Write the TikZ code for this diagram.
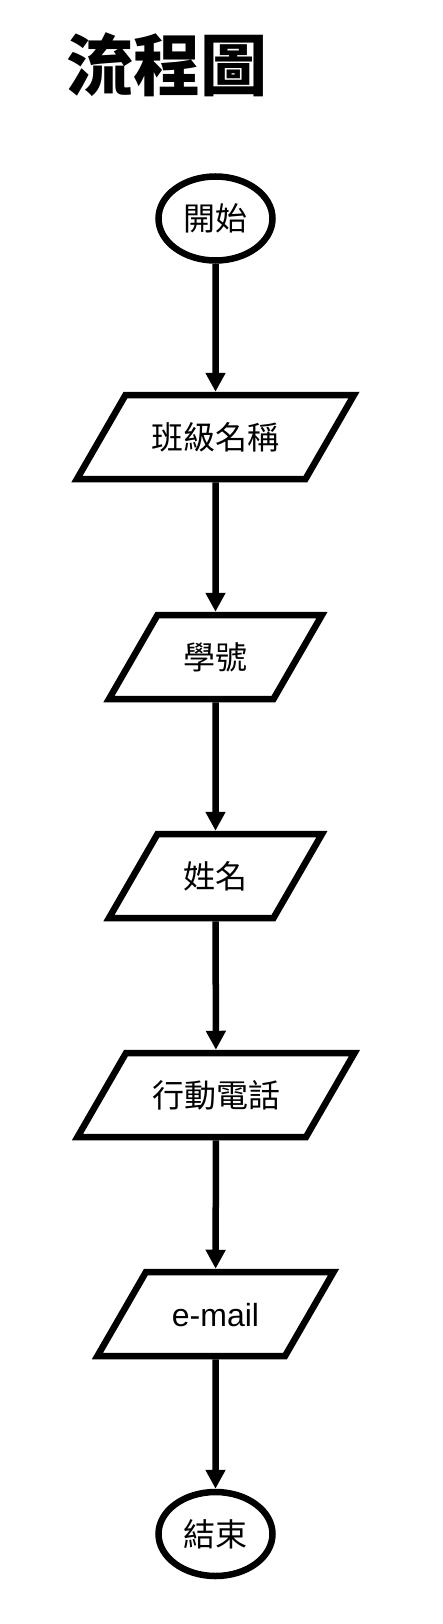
\documentclass[tikz,border=0pt]{standalone}
\usepackage{fontspec}
\setmainfont{Liberation Sans}
\newfontfamily\cjk{Noto Sans CJK TC}
\usetikzlibrary{arrows.meta}
\usetikzlibrary{shapes.geometric}

\tikzset{
  flowline/.style={line width=6.5pt, -{Triangle[width=19pt,length=19pt]}},
  terminal/.style={ellipse, draw, line width=6.5pt, inner sep=0pt,
    minimum width=114pt, minimum height=84pt, font=\cjk\fontsize{32}{38}\selectfont},
  inout/.style={trapezium, trapezium left angle=60, trapezium right angle=120,
    draw, line width=6.5pt, inner xsep=26pt, inner ysep=26pt,
    text height=28pt, text depth=4pt, font=\cjk\fontsize{32}{38}\selectfont},
}

\begin{document}
\begin{tikzpicture}[x=1pt, y=-1pt]
\useasboundingbox (0,0) rectangle (442,1624);

\node[anchor=west, inner sep=0pt, font=\cjk\bfseries\fontsize{67}{72}\selectfont] (title) at (66,65) {流程圖};

\node[terminal] (start) at (215.5,218.5) {開始};
\node[inout] (class) at (215.5,437) {班級名稱};
\node[inout] (id) at (215.5,657) {學號};
\node[inout] (name) at (215.5,876) {姓名};
\node[inout] (phone) at (216,1095) {行動電話};
\node[inout, font=\fontsize{32}{38}\selectfont] (mail) at (215.5,1314) {e-mail};
\node[terminal] (end) at (215.5,1534) {結束};

% flow
\foreach \a/\b in {start/class, class/id, id/name, name/phone, phone/mail, mail/end}{
  \draw[flowline] (\a) -- (\b);
}
\end{tikzpicture}
\end{document}
